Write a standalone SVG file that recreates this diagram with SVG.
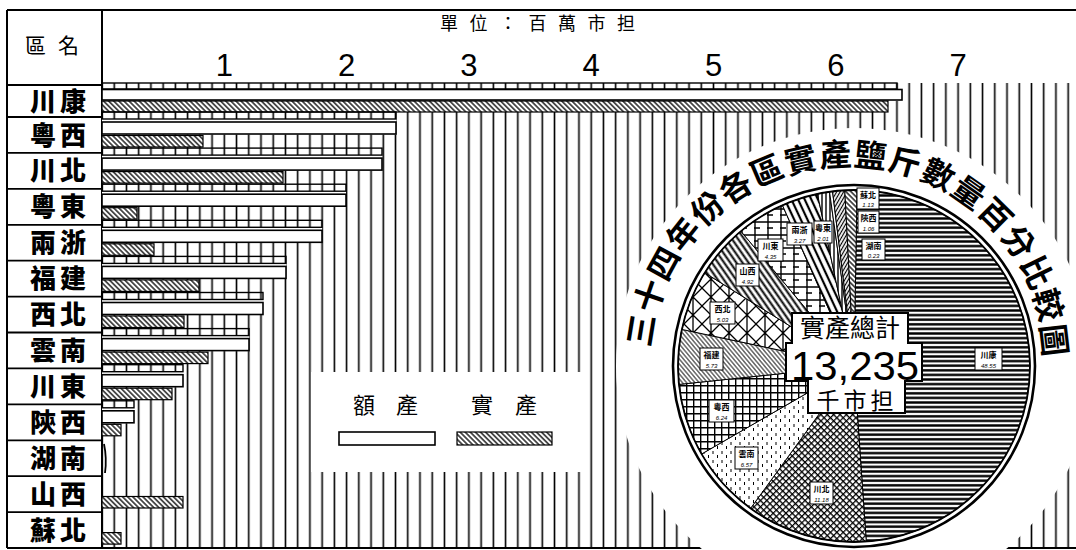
<svg xmlns="http://www.w3.org/2000/svg" width="1076" height="550" viewBox="0 0 1076 550">
<style>
.ln{stroke:#000;fill:none}
.lab{font-family:"Noto Sans CJK TC","Noto Sans CJK SC",sans-serif;font-weight:900;font-size:26px;fill:#000;text-anchor:middle;letter-spacing:4px}
.hd{font-family:"Noto Sans CJK TC","Noto Sans CJK SC",sans-serif;fill:#000}
.ct{font-family:"Liberation Sans","Noto Sans CJK TC","Noto Sans CJK SC",sans-serif;fill:#000;text-anchor:middle}
.tt{font-family:"Liberation Sans","Noto Sans CJK TC","Noto Sans CJK SC",sans-serif;fill:#000;font-size:32px;font-weight:700;text-anchor:middle}
.num{font-family:"Liberation Sans",Arial,sans-serif;font-size:31px;fill:#000;text-anchor:middle}
.ruler{fill:none;stroke:#000;stroke-width:1.4}
.quota{fill:#fff;stroke:#000;stroke-width:1.6}
.act{fill:url(#hatch);stroke:#000;stroke-width:1.2}
.cover{fill:#fff;stroke:none}
.pl rect{fill:#fff;stroke:#000;stroke-width:1}
.pn{font-family:"Noto Sans CJK TC","Noto Sans CJK SC",sans-serif;font-weight:700;font-size:8px;fill:#000;text-anchor:middle}
.pv{font-family:"Liberation Sans",Arial,sans-serif;font-style:italic;font-size:6px;fill:#000;text-anchor:middle}
.sl{stroke:#000;stroke-width:1}
</style>
<defs>
<pattern id="vs" patternUnits="userSpaceOnUse" x="95.885" y="0" width="12.23" height="20"><line x1="6.115" y1="0" x2="6.115" y2="20" stroke="#000" stroke-width="1.6"/></pattern>
<pattern id="hatch" patternUnits="userSpaceOnUse" width="3.6" height="10" patternTransform="rotate(-45)"><rect width="3.6" height="10" fill="#fff"/><line x1="1.8" y1="0" x2="1.8" y2="10" stroke="#000" stroke-width="1.3"/></pattern>
<pattern id="pH" patternUnits="userSpaceOnUse" width="10" height="4.6"><rect width="10" height="4.6" fill="#fff"/><line x1="0" y1="2.3" x2="10" y2="2.3" stroke="#000" stroke-width="2.4"/></pattern>
<pattern id="pX" patternUnits="userSpaceOnUse" width="4.5" height="4.5" patternTransform="rotate(45)"><rect width="4.5" height="4.5" fill="#fff"/><path d="M0 0.6H4.5M0.6 0V4.5" stroke="#000" stroke-width="1.3"/></pattern>
<pattern id="pSt" patternUnits="userSpaceOnUse" width="9" height="9"><rect width="9" height="9" fill="#fff"/><path d="M2 1V4M6.5 5V8" stroke="#000" stroke-width="1"/></pattern>
<pattern id="pG" patternUnits="userSpaceOnUse" width="7" height="7"><rect width="7" height="7" fill="#fff"/><path d="M0 0.7H7M0.7 0V7" stroke="#000" stroke-width="1.4"/></pattern>
<pattern id="pF" patternUnits="userSpaceOnUse" width="3.2" height="10" patternTransform="rotate(-40)"><rect width="3.2" height="10" fill="#fff"/><line x1="1.6" y1="0" x2="1.6" y2="10" stroke="#000" stroke-width="0.9"/></pattern>
<pattern id="pL" patternUnits="userSpaceOnUse" width="18" height="18"><rect width="18" height="18" fill="#fff"/><path d="M0 0L18 18M18 0L0 18M9 0V18" stroke="#000" stroke-width="1.3"/></pattern>
<pattern id="pS" patternUnits="userSpaceOnUse" width="5" height="10" patternTransform="rotate(-35)"><rect width="5" height="10" fill="#fff"/><line x1="2.5" y1="0" x2="2.5" y2="10" stroke="#000" stroke-width="2"/></pattern>
<pattern id="pC" patternUnits="userSpaceOnUse" width="13" height="13"><rect width="13" height="13" fill="#fff"/><path d="M0 1H13M1 0V13M0 7H6" stroke="#000" stroke-width="1.4"/></pattern>
<pattern id="pZ" patternUnits="userSpaceOnUse" width="6" height="10" patternTransform="rotate(-25)"><rect width="6" height="10" fill="#fff"/><line x1="3" y1="0" x2="3" y2="10" stroke="#000" stroke-width="2.2"/></pattern>
<pattern id="pV" patternUnits="userSpaceOnUse" width="4" height="10"><rect width="4" height="10" fill="#fff"/><line x1="2" y1="0" x2="2" y2="10" stroke="#000" stroke-width="1.4"/></pattern>
<pattern id="pD" patternUnits="userSpaceOnUse" width="3" height="10" patternTransform="rotate(30)"><rect width="3" height="10" fill="#fff"/><line x1="1.5" y1="0" x2="1.5" y2="10" stroke="#000" stroke-width="1.2"/></pattern>
</defs>
<rect width="1076" height="550" fill="#fff"/>

<g id="frame">
<rect x="103" y="83" width="973" height="465" fill="url(#vs)"/>
<path class="ln" stroke-width="2" d="M7 10H1076M7 10V548M102 10V548M7 548H1076"/>
<path class="ln" stroke-width="1.8" d="M7 85H102M7 117H102M7 152.9H102M7 188.8H102M7 224.8H102M7 260.7H102M7 296.6H102M7 332.5H102M7 368.4H102M7 404.4H102M7 440.3H102M7 476.2H102M7 512.1H102"/>
</g>

<g id="header">
<text class="hd" x="25" y="53" font-size="21" letter-spacing="12">區名</text>
<text class="hd" x="440" y="30" font-size="18" letter-spacing="11.5">單位：百萬市担</text>
<text class="num" x="224.3" y="76">1</text>
<text class="num" x="346.6" y="76">2</text>
<text class="num" x="468.9" y="76">3</text>
<text class="num" x="591.2" y="76">4</text>
<text class="num" x="713.5" y="76">5</text>
<text class="num" x="835.8" y="76">6</text>
<text class="num" x="958.1" y="76">7</text>
</g>

<g id="labels">
<text class="lab" x="60" y="110.5">川康</text>
<text class="lab" x="60" y="144.5">粵西</text>
<text class="lab" x="60" y="180.4">川北</text>
<text class="lab" x="60" y="216.3">粵東</text>
<text class="lab" x="60" y="252.2">兩浙</text>
<text class="lab" x="60" y="288.2">福建</text>
<text class="lab" x="60" y="324.1">西北</text>
<text class="lab" x="60" y="360">雲南</text>
<text class="lab" x="60" y="395.9">川東</text>
<text class="lab" x="60" y="431.8">陝西</text>
<text class="lab" x="60" y="467.8">湖南</text>
<text class="lab" x="60" y="503.7">山西</text>
<text class="lab" x="60" y="539.6">蘇北</text>
</g>

<g id="bars">
<rect class="cover" x="102" y="89" width="800" height="12"/>
<rect class="ruler" x="102" y="83" width="795" height="6"/>
<rect class="quota" x="102" y="89.5" width="800" height="10.5"/>
<rect class="act" x="102" y="101" width="786" height="11"/>
<rect class="cover" x="102" y="119" width="294" height="15.5"/>
<rect class="ruler" x="102" y="112" width="294" height="7"/>
<rect class="quota" x="102" y="122" width="294" height="12"/>
<rect class="act" x="102" y="135.5" width="101" height="11.5"/>
<rect class="cover" x="102" y="155.1" width="280" height="15.5"/>
<rect class="ruler" x="102" y="148.1" width="280" height="7"/>
<rect class="quota" x="102" y="158.1" width="280" height="12"/>
<rect class="act" x="102" y="171.6" width="181" height="11.5"/>
<rect class="cover" x="102" y="191.2" width="244" height="15.5"/>
<rect class="ruler" x="102" y="184.2" width="244" height="7"/>
<rect class="quota" x="102" y="194.2" width="244" height="12"/>
<rect class="act" x="102" y="207.7" width="35" height="11.5"/>
<rect class="cover" x="102" y="227.3" width="220" height="15.5"/>
<rect class="ruler" x="102" y="220.3" width="220" height="7"/>
<rect class="quota" x="102" y="230.3" width="220" height="12"/>
<rect class="act" x="102" y="243.8" width="52" height="11.5"/>
<rect class="cover" x="102" y="263.4" width="184" height="15.5"/>
<rect class="ruler" x="102" y="256.4" width="184" height="7"/>
<rect class="quota" x="102" y="266.4" width="184" height="12"/>
<rect class="act" x="102" y="279.9" width="97" height="11.5"/>
<rect class="cover" x="102" y="299.5" width="161" height="15.5"/>
<rect class="ruler" x="102" y="292.5" width="161" height="7"/>
<rect class="quota" x="102" y="302.5" width="161" height="12"/>
<rect class="act" x="102" y="316" width="82" height="11.5"/>
<rect class="cover" x="102" y="335.6" width="147" height="15.5"/>
<rect class="ruler" x="102" y="328.6" width="147" height="7"/>
<rect class="quota" x="102" y="338.6" width="147" height="12"/>
<rect class="act" x="102" y="352.1" width="106" height="11.5"/>
<rect class="cover" x="102" y="371.7" width="81" height="15.5"/>
<rect class="ruler" x="102" y="364.7" width="81" height="7"/>
<rect class="quota" x="102" y="374.7" width="81" height="12"/>
<rect class="act" x="102" y="388.2" width="70" height="11.5"/>
<rect class="cover" x="102" y="407.8" width="32" height="15.5"/>
<rect class="ruler" x="102" y="400.8" width="32" height="7"/>
<rect class="quota" x="102" y="410.8" width="32" height="12"/>
<rect class="act" x="102" y="424.3" width="19" height="11.5"/>
<path class="ln" stroke-width="1.8" d="M104 444Q107 458 105 473"/>
<rect class="act" x="102" y="496.5" width="81" height="11.5"/>
<rect class="act" x="102" y="532.6" width="19" height="11.5"/>
</g>

<g id="legend">
<rect class="cover" x="311" y="372" width="278" height="100"/>
<text class="hd" x="364" y="413" font-size="22" text-anchor="middle">額</text>
<text class="hd" x="407" y="413" font-size="22" text-anchor="middle">產</text>
<text class="hd" x="482" y="413" font-size="22" text-anchor="middle">實</text>
<text class="hd" x="526" y="413" font-size="22" text-anchor="middle">產</text>
<rect class="quota" x="339" y="432" width="96" height="13"/>
<rect class="act" x="457" y="432" width="95" height="13"/>
</g>

<g id="pie-area">
<circle class="cover" cx="854" cy="366" r="238"/>
</g>

<g id="title" class="tt">
<text transform="translate(640.76 330.06) rotate(-80.7)" y="12">三</text>
<text transform="translate(649.38 295.81) rotate(-71.05)" y="12">十</text>
<text transform="translate(663.62 263.47) rotate(-61.4)" y="12">四</text>
<text transform="translate(683.08 233.99) rotate(-51.75)" y="12">年</text>
<text transform="translate(707.21 208.18) rotate(-42.1)" y="12">份</text>
<text transform="translate(735.32 186.79) rotate(-32.45)" y="12">各</text>
<text transform="translate(766.62 170.41) rotate(-22.8)" y="12">區</text>
<text transform="translate(800.23 159.51) rotate(-13.15)" y="12">實</text>
<text transform="translate(835.18 154.39) rotate(-3.5)" y="12">產</text>
<text transform="translate(870.5 155.21) rotate(6.15)" y="12">鹽</text>
<text transform="translate(905.18 161.93) rotate(15.8)" y="12">斤</text>
<text transform="translate(938.24 174.38) rotate(25.45)" y="12">數</text>
<text transform="translate(968.75 192.19) rotate(35.1)" y="12">量</text>
<text transform="translate(995.84 214.86) rotate(44.75)" y="12">百</text>
<text transform="translate(1018.75 241.75) rotate(54.4)" y="12">分</text>
<text transform="translate(1036.83 272.1) rotate(64.05)" y="12">比</text>
<text transform="translate(1048.6 304.8) rotate(73.7)" y="12">較</text>
<text transform="translate(1054.2 339.9) rotate(83.35)" y="12">圖</text>
</g>

<g id="pie">
<circle cx="854" cy="366" r="182" fill="#fff"/>
<path class="sl" fill="url(#pH)" d="M854 366L857.07 190.03A176 176 0 0 1 866.28 541.57Z"/>
<path class="sl" fill="url(#pX)" d="M854 366L866.28 541.57A176 176 0 0 1 750.55 508.39Z"/>
<path class="sl" fill="url(#pSt)" d="M854 366L750.55 508.39A176 176 0 0 1 701.58 454Z"/>
<path class="sl" fill="url(#pG)" d="M854 366L701.58 454A176 176 0 0 1 678.96 384.4Z"/>
<path class="sl" fill="url(#pF)" d="M854 366L678.96 384.4A176 176 0 0 1 681.85 329.41Z"/>
<path class="sl" fill="url(#pL)" d="M854 366L681.85 329.41A176 176 0 0 1 704.74 272.73Z"/>
<path class="sl" fill="url(#pS)" d="M854 366L704.74 272.73A176 176 0 0 1 740.87 231.18Z"/>
<path class="sl" fill="url(#pC)" d="M854 366L740.87 231.18A176 176 0 0 1 782.41 205.21Z"/>
<path class="sl" fill="url(#pZ)" d="M854 366L782.41 205.21A176 176 0 0 1 817.41 193.85Z"/>
<path class="sl" fill="url(#pV)" d="M854 366L817.41 193.85A176 176 0 0 1 829.51 191.71Z"/>
<path class="sl" fill="#fff" d="M854 366L829.51 191.71A176 176 0 0 1 832.55 191.31Z"/>
<path class="sl" fill="url(#pD)" d="M854 366L832.55 191.31A176 176 0 0 1 844.79 190.24Z"/>
<path class="sl" fill="url(#hatch)" d="M854 366L844.79 190.24A176 176 0 0 1 857.07 190.03Z"/>
<circle cx="854" cy="366" r="176" fill="none" stroke="#000" stroke-width="1.8"/>
<circle cx="854" cy="366" r="181" fill="none" stroke="#000" stroke-width="2.6"/>
</g>

<g id="pie-labels" class="pl">
<g><rect x="857" y="188" width="22" height="21"/><text class="pn" x="868" y="197.5">蘇北</text><text class="pv" x="868" y="207">1.13</text></g>
<g><rect x="858" y="211" width="21" height="22"/><text class="pn" x="868.5" y="221">陝西</text><text class="pv" x="868.5" y="230.5">1.06</text></g>
<g><rect x="862" y="239" width="23" height="21"/><text class="pn" x="873.5" y="248.5">湖南</text><text class="pv" x="873.5" y="258">0.23</text></g>
<g><rect x="814" y="221" width="18" height="22"/><text class="pn" x="823" y="231">粵東</text><text class="pv" x="823" y="240.5">2.01</text></g>
<g><rect x="787" y="223" width="25" height="22"/><text class="pn" x="799.5" y="233">兩浙</text><text class="pv" x="799.5" y="242.5">3.27</text></g>
<g><rect x="758" y="239" width="25" height="22"/><text class="pn" x="770.5" y="249">川東</text><text class="pv" x="770.5" y="258.5">4.35</text></g>
<g><rect x="736" y="264" width="23" height="22"/><text class="pn" x="747.5" y="274">山西</text><text class="pv" x="747.5" y="283.5">4.92</text></g>
<g><rect x="710" y="302" width="25" height="22"/><text class="pn" x="722.5" y="312">西北</text><text class="pv" x="722.5" y="321.5">5.03</text></g>
<g><rect x="700" y="348" width="23" height="22"/><text class="pn" x="711.5" y="358">福建</text><text class="pv" x="711.5" y="367.5">5.73</text></g>
<g><rect x="709" y="400" width="25" height="22"/><text class="pn" x="721.5" y="410">粵西</text><text class="pv" x="721.5" y="419.5">6.24</text></g>
<g><rect x="735" y="447" width="23" height="22"/><text class="pn" x="746.5" y="457">雲南</text><text class="pv" x="746.5" y="466.5">6.57</text></g>
<g><rect x="810" y="482" width="23" height="22"/><text class="pn" x="821.5" y="492">川北</text><text class="pv" x="821.5" y="501.5">11.18</text></g>
<g><rect x="975" y="348" width="27" height="22"/><text class="pn" x="988.5" y="358">川康</text><text class="pv" x="988.5" y="367.5">48.55</text></g>
</g>

<g id="total">
<path d="M792 313H908V343H922V381H905V413H808V381H786V343H792Z" fill="#fff" stroke="#000" stroke-width="2"/>
<text class="ct" x="850" y="337" font-size="25">實產總計</text>
<text x="791" y="380" font-family="Liberation Sans,Arial,sans-serif" font-size="40" textLength="128" lengthAdjust="spacingAndGlyphs">13,235</text>
<text class="ct" x="857" y="409" font-size="23" letter-spacing="4">千市担</text>
</g>
</svg>
